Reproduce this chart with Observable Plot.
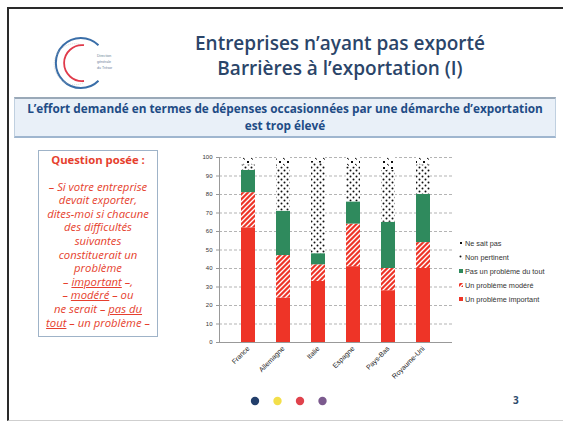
<!DOCTYPE html>
<html><head><meta charset="utf-8">
<script src="https://cdn.jsdelivr.net/npm/d3@7"></script>
<script src="https://cdn.jsdelivr.net/npm/@observablehq/plot@0.6"></script>
<style>
html,body{margin:0;padding:0;background:#fff;}
body{width:563px;height:423px;position:relative;overflow:hidden;font-family:"Open Sans",Lato,sans-serif;}
.abs{position:absolute;}
#frame{left:7px;top:7px;width:600px;height:411px;border-left:2px solid #2a2a2a;border-top:2px solid #2a2a2a;border-bottom:1px solid #cfcfcf;}
#title{left:120px;top:31px;width:440px;text-align:center;color:#2b4569;font-size:19px;font-weight:600;line-height:25px;}
#sub{left:14px;top:97px;width:540px;height:36px;background:#e9f0f8;border-top:2px solid #9aa9b8;border-bottom:2px solid #9fb6cf;border-left:1px solid #c0d0e0;border-right:1px solid #c0d0e0;text-align:center;color:#1f4c86;font-weight:bold;font-size:11.8px;line-height:17px;padding-top:1px;}
#question{left:38px;top:150px;width:118px;height:185px;border:1px solid #9fb3c8;color:#e63f2e;text-align:center;font-size:11.3px;line-height:13.6px;font-style:italic;}
#question .q{font-style:normal;font-weight:bold;margin-top:2px;margin-bottom:13px;}
#question u{text-decoration:underline;}
#chart{left:190px;top:148px;}
#legend{left:459px;top:236px;font-family:"Liberation Sans",Arial,sans-serif;font-size:7.3px;color:#333;}
#legend div{height:14px;display:flex;align-items:center;}
#legend svg{margin-right:2px;}
#page{left:513px;top:393px;color:#2d4a6c;font-size:10px;font-weight:bold;}
</style></head>
<body>
<svg width="0" height="0" style="position:absolute">
<defs>
<pattern id="hatch" width="5" height="5" patternUnits="userSpaceOnUse">
<rect width="5" height="5" fill="#ee3427"/>
<path d="M-1,1 l2,-2 M0,5 l5,-5 M4,6 l2,-2" stroke="#fff" stroke-width="1.3"/>
</pattern>
<pattern id="dots" width="6" height="6" patternUnits="userSpaceOnUse">
<rect width="6" height="6" fill="#fff"/>
<circle cx="1.5" cy="1.5" r="1" fill="#111"/>
<circle cx="4.5" cy="4.5" r="1" fill="#111"/>
</pattern>
<pattern id="nsp" width="8" height="6" patternUnits="userSpaceOnUse">
<rect width="8" height="6" fill="#fff"/>
<path d="M1,1 l2,2 M3,1 l-2,2 M5,4 l2,1.5" stroke="#111" stroke-width="1"/>
</pattern>
</defs>
</svg>
<div id="frame" class="abs"></div>
<svg class="abs" style="left:50px;top:33px" width="80" height="62">
<path d="M48.5,12.3 A25,25 0 1 0 48.5,47.7" fill="none" stroke="#3a6ea8" stroke-width="2"/>
<path d="M33,12.5 A20.5,20.5 0 1 0 33,50" fill="none" stroke="#bbb" stroke-width="0.6" stroke-dasharray="1,1"/>
<path d="M34,12.2 A18,18 0 1 0 34,48" fill="none" stroke="#e03a4a" stroke-width="1.8"/>
<text x="47" y="24" font-size="3.6" fill="#6a7f99" font-family="Liberation Sans">Direction</text>
<text x="47" y="30" font-size="3.6" fill="#6a7f99" font-family="Liberation Sans">générale</text>
<text x="47" y="36" font-size="3.6" fill="#6a7f99" font-family="Liberation Sans">du Trésor</text>
</svg>
<div id="title" class="abs">Entreprises n’ayant pas exporté<br>Barrières à l’exportation (I)</div>
<div id="sub" class="abs">L’effort demandé en termes de dépenses occasionnées par une démarche d’exportation<br>est trop élevé</div>
<div id="question" class="abs">
<div class="q">Question posée :</div>
– Si votre entreprise<br>devait exporter,<br>dites-moi si chacune<br>des difficultés<br>suivantes<br>constituerait un<br>problème<br>– <u>important</u> –,<br>– <u>modéré</u> – ou<br>ne serait – <u>pas du</u><br><u>tout</u> – un problème –
</div>
<div id="chart" class="abs"></div>
<div id="legend" class="abs"></div>
<svg class="abs" style="left:245px;top:393px" width="90" height="16" id="dotsrow"></svg>
<div id="page" class="abs">3</div>
<script>
const countries = ["France","Allemagne","Italie","Espagne","Pays-Bas","Royaume-Uni"];
const series = ["Un problème important","Un problème modéré","Pas un problème du tout","Non pertinent","Ne sait pas"];
const important    = [62,24,33,41,28,40];
const modere       = [19,23, 9,23,12,14];
const pasDuTout    = [12,24, 6,12,25,26];
const nonPertinent = [ 3,24,49,19,28,16];
const neSaitPas    = [ 4, 5, 3, 5, 7, 4];
const yTicks = [0,10,20,30,40,50,60,70,80,90,100];
const seriesFills = ["#ee3427","url(#hatch)","#2f8a5d","url(#dots)","url(#nsp)"];
const legendOrder = ["Ne sait pas","Non pertinent","Pas un problème du tout","Un problème modéré","Un problème important"];
const dotColors = ["#233f6b","#f3df4a","#e0424c","#7b5a8e"];

const values = [important, modere, pasDuTout, nonPertinent, neSaitPas];
const rows = [];
series.forEach((s, i) => countries.forEach((c, j) => rows.push({country: c, series: s, value: values[i][j]})));

const chart = Plot.plot({
  width: 264, height: 240,
  marginLeft: 29, marginRight: 2, marginTop: 9, marginBottom: 46,
  style: {fontFamily: "Liberation Sans, Arial, sans-serif", fontSize: "6px", color: "#333", background: "transparent"},
  x: {domain: countries, padding: 0.59, label: null},
  y: {domain: [0, 100], label: null},
  color: {domain: series, range: seriesFills},
  marks: [
    Plot.gridY(yTicks, {stroke: "#777", strokeOpacity: 0.55, strokeDasharray: "3,2"}),
    Plot.barY(rows, Plot.stackY({x: "country", y: "value", fill: "series", order: null})),
    Plot.ruleY([0], {stroke: "#999"}),
    Plot.frame({anchor: "left", stroke: "#999"}),
    Plot.axisY(yTicks, {tickSize: 3, tickPadding: 4, fontSize: 6, stroke: "#999", tickFormat: d => d}),
    Plot.axisX({tickRotate: -45, tickSize: 0, tickPadding: 5, fontSize: 7, fill: "#222"})
  ]
});
document.getElementById("chart").appendChild(chart);

const leg = d3.select("#legend");
legendOrder.forEach(s => {
  const row = leg.append("div");
  row.append("svg").attr("width", 4).attr("height", 4)
    .append("rect").attr("width", 4).attr("height", 4)
    .attr("fill", seriesFills[series.indexOf(s)]);
  row.append("span").text(s);
});

const dr = d3.select("#dotsrow");
dotColors.forEach((c, i) => dr.append("circle").attr("cx", 10 + i * 22.5).attr("cy", 8).attr("r", 4.2).attr("fill", c));
</script>
</body></html>
